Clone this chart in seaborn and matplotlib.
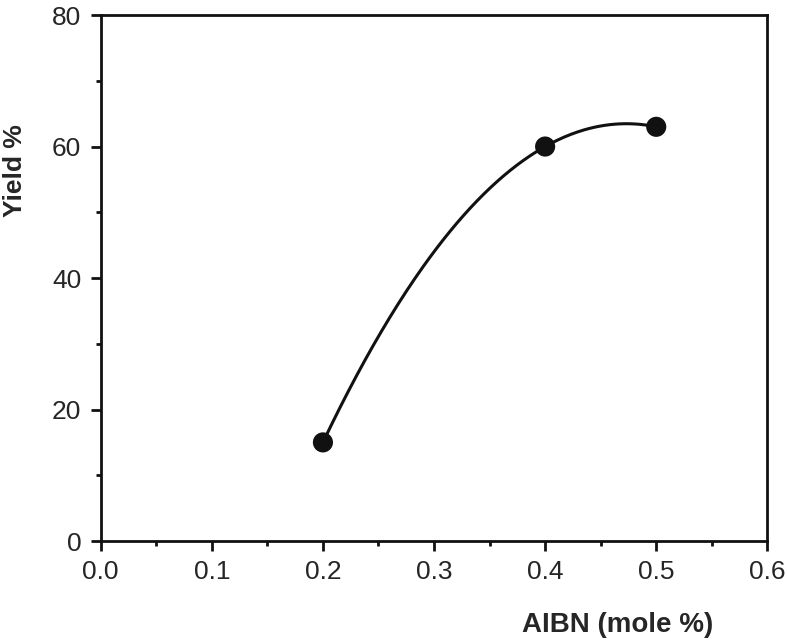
import numpy as np
import pandas as pd
import matplotlib
matplotlib.use('Agg')
import matplotlib.pyplot as plt
import seaborn as sns
from matplotlib.ticker import MultipleLocator

# data
aibn = [0.2, 0.4, 0.5]
yield_pct = [15, 60, 63]

df = pd.DataFrame({'AIBN': aibn, 'Yield': yield_pct})

# smooth connecting line through the three points (quadratic, like Origin's spline connect)
coef = np.polyfit(df['AIBN'], df['Yield'], 2)
xs = np.linspace(min(aibn), max(aibn), 200)
curve = pd.DataFrame({'AIBN': xs, 'Yield': np.polyval(coef, xs)})

sns.set_style('ticks')
plt.rcParams['font.family'] = ['Liberation Sans', 'DejaVu Sans']

fig = plt.figure(figsize=(7.87, 6.43), dpi=100)
ax = fig.add_axes([0.128, 0.1586, 0.847, 0.818])

sns.lineplot(data=curve, x='AIBN', y='Yield', color='#111111', linewidth=2.2, ax=ax)
sns.scatterplot(data=df, x='AIBN', y='Yield', color='#111111', s=210, edgecolor='none', zorder=5, ax=ax)

ax.set_xlim(0, 0.6)
ax.set_ylim(0, 80)
ax.xaxis.set_major_locator(MultipleLocator(0.1))
ax.xaxis.set_minor_locator(MultipleLocator(0.05))
ax.yaxis.set_major_locator(MultipleLocator(20))
ax.yaxis.set_minor_locator(MultipleLocator(10))
ax.xaxis.set_major_formatter(matplotlib.ticker.FormatStrFormatter('%.1f'))

for s in ax.spines.values():
    s.set_linewidth(2.0)
    s.set_color('#111111')
ax.tick_params(which='major', direction='out', length=7, width=2, labelsize=19, color='#111111', pad=7)
ax.tick_params(which='minor', direction='out', length=3.6, width=2, color='#111111')

ax.set_xlabel('AIBN (mole %)', fontsize=20, fontweight='bold')
ax.set_ylabel('Yield %', fontsize=19, fontweight='bold')
ax.xaxis.set_label_coords(0.775, -0.135)
ax.yaxis.set_label_coords(-0.11, 0.705)

fig.savefig('out.png', dpi=100)
